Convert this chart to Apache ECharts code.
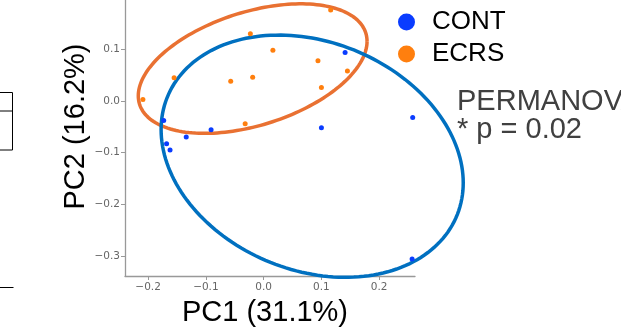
<!DOCTYPE html>
<html>
<head>
<meta charset="utf-8">
<script src="https://cdn.jsdelivr.net/npm/echarts@6/dist/echarts.min.js"></script>
<style>
  html, body { margin: 0; padding: 0; background: #fff; }
  #pcoa_con { width: 621px; height: 331px; }
</style>
</head>
<body>
<div id="pcoa_con"></div>
<script>
// PCoA points
const contX = [-0.173, -0.091, -0.134, -0.168, -0.162, 0.141, 0.100, 0.258, 0.257];
const contY = [-0.038, -0.056, -0.070, -0.083, -0.095, 0.094, -0.052, -0.032, -0.306];
const ecrsX = [-0.209, -0.155, -0.023, 0.016, -0.057, -0.019, -0.032, 0.116, 0.094, 0.145, 0.100];
const ecrsY = [0.003, 0.045, 0.130, 0.098, 0.038, 0.046, -0.044, 0.176, 0.078, 0.058, 0.026];

// ellipses: centre x, centre y, half width, half height, x/y coupling
const contEllipse = [0.084, -0.107, 0.2615, 0.2345, -0.22];
const ecrsEllipse = [-0.019, 0.0626, 0.198, 0.1254, 0.42];

const xTicks = [-0.2, -0.1, 0.0, 0.1, 0.2];
const yTicks = [-0.3, -0.2, -0.1, 0.0, 0.1, 0.2];
const groupNames = ['CONT', 'ECRS'];

function zipXY(xs, ys) {
    let out = [];
    for (let i = 0; i < xs.length; i++) {
        out.push([xs[i], ys[i]]);
    }
    return out;
}

function ellipseOutline(e) {
    let pts = [];
    let phi = Math.acos(e[4]);
    for (let i = 0; i <= 180; i++) {
        let t = i / 180 * Math.PI * 2;
        pts.push([e[0] + e[2] * Math.cos(t), e[1] + e[3] * Math.cos(t - phi)]);
    }
    return pts;
}

function tickText(v) {
    return (v < -1e-9 ? '\u2212' : '') + Math.abs(v).toFixed(1);
}

// one ellipse outline per data item, drawn through the axes
function ellipseSeries(name, e, color, z) {
    return {
        name: name,
        type: 'custom',
        clip: false,
        z: z,
        silent: true,
        data: [e],
        renderItem: function (params, api) {
            let pts = ellipseOutline(e).map(function (p) {
                return api.coord(p);
            });
            return {
                type: 'polyline',
                shape: {points: pts},
                style: {fill: 'none', stroke: color, lineWidth: 3.5}
            };
        }
    };
}

const axisGray = '#999';
const dotPath = 'path://M0,10a10,10 0 1,0 20,0a10,10 0 1,0 -20,0';

let option = {
    animation: false,
    grid: {
        left: 125,
        right: 206,
        top: -23,
        bottom: 55,
        outerBoundsMode: 'none'
    },
    legend: {
        orient: 'vertical',
        left: 393,
        top: 4,
        itemWidth: 21,
        itemHeight: 17,
        itemGap: 6,
        data: [
            {name: 'CONT', icon: dotPath, itemStyle: {color: '#0a3cff', opacity: 1}},
            {name: 'ECRS', icon: dotPath, itemStyle: {color: '#ff7f0e', opacity: 1}}
        ],
        textStyle: {
            fontFamily: 'Liberation Sans',
            fontSize: 26,
            lineHeight: 26,
            color: '#000',
            padding: [0, 0, 0, 10]
        }
    },
    xAxis: {
        type: 'value',
        min: -0.24,
        max: 0.262,
        name: 'PC1 (31.1%)',
        nameLocation: 'middle',
        nameGap: 22,
        nameTextStyle: {fontFamily: 'Liberation Sans', fontSize: 29, color: '#000', verticalAlign: 'top', padding: [0, 10, 0, 0]},
        axisLine: {onZero: false, lineStyle: {color: axisGray, width: 1.3}},
        axisTick: {show: true, length: 4, customValues: xTicks, lineStyle: {color: axisGray}},
        axisLabel: {
            customValues: xTicks,
            formatter: tickText,
            fontFamily: 'DejaVu Sans',
            fontSize: 10.5,
            color: '#666',
            margin: 6
        },
        splitLine: {show: false}
    },
    yAxis: {
        type: 'value',
        min: -0.339,
        max: 0.24,
        name: 'PC2 (16.2%)',
        nameLocation: 'middle',
        nameGap: 34,
        nameTextStyle: {fontFamily: 'Liberation Sans', fontSize: 29, color: '#000'},
        axisLine: {show: true, onZero: false, lineStyle: {color: axisGray, width: 1.3}},
        axisTick: {show: true, length: 4, customValues: yTicks, lineStyle: {color: axisGray}},
        axisLabel: {
            customValues: yTicks,
            formatter: tickText,
            fontFamily: 'DejaVu Sans',
            fontSize: 10.5,
            color: '#666',
            margin: 5
        },
        splitLine: {show: false}
    },
    series: [
        ellipseSeries('ECRS ellipse', ecrsEllipse, '#e97132', 1),
        ellipseSeries('CONT ellipse', contEllipse, '#0070c0', 2),
        {
            name: groupNames[0],
            type: 'scatter',
            data: zipXY(contX, contY),
            symbolSize: 5,
            z: 5,
            itemStyle: {color: '#0a3cff', opacity: 1}
        },
        {
            name: groupNames[1],
            type: 'scatter',
            data: zipXY(ecrsX, ecrsY),
            symbolSize: 5,
            z: 5,
            itemStyle: {color: '#ff7f0e', opacity: 1}
        }
    ],
    graphic: [
        // bits of the neighbouring panel at the left edge
        {type: 'rect', shape: {x: -2, y: 92.5, width: 14.5, height: 57.5}, style: {fill: 'none', stroke: '#000', lineWidth: 1}},
        {type: 'line', shape: {x1: 0, y1: 111, x2: 12.5, y2: 111}, style: {stroke: '#000', lineWidth: 1}},
        {type: 'line', shape: {x1: 0, y1: 287.5, x2: 13.5, y2: 287.5}, style: {stroke: '#000', lineWidth: 1}},
        {
            type: 'text', left: 457, top: 87,
            style: {text: 'PERMANOVA', fontFamily: 'Liberation Sans', fontSize: 29, fill: '#404040'}
        },
        {
            type: 'text', left: 457, top: 115,
            style: {text: '* p = 0.02', fontFamily: 'Liberation Sans', fontSize: 29, fill: '#404040'}
        }
    ]
};

const pcoaChart = echarts.init(document.getElementById('pcoa_con'));
pcoaChart.setOption(option);
window.addEventListener('resize', function () {
    pcoaChart.resize();
});
</script>
</body>
</html>
